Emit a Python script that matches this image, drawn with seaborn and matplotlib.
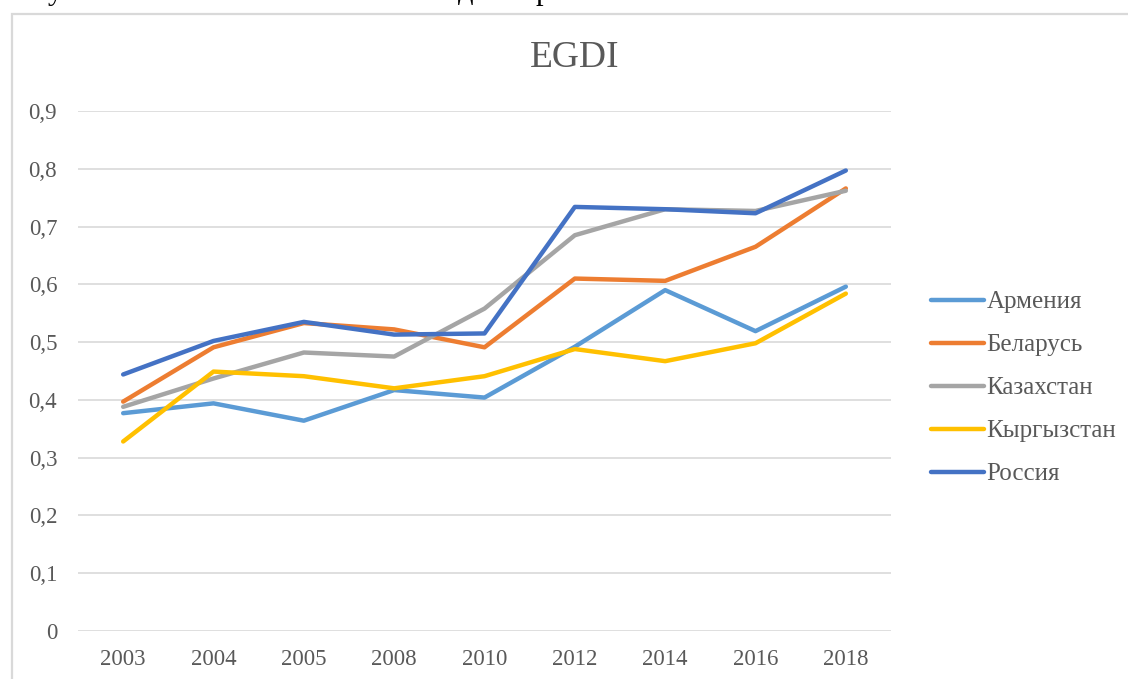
import pandas as pd
import matplotlib.pyplot as plt
import seaborn as sns
from matplotlib.ticker import FuncFormatter, MultipleLocator
from matplotlib.patches import Rectangle

years = ['2003', '2004', '2005', '2008', '2010', '2012', '2014', '2016', '2018']
armenia = [0.377, 0.394, 0.364, 0.417, 0.404, 0.492, 0.590, 0.519, 0.596]
belarus = [0.397, 0.491, 0.533, 0.522, 0.491, 0.610, 0.606, 0.665, 0.766]
kazakhstan = [0.388, 0.437, 0.482, 0.475, 0.558, 0.685, 0.730, 0.727, 0.762]
kyrgyzstan = [0.328, 0.449, 0.441, 0.420, 0.441, 0.488, 0.467, 0.498, 0.584]
russia = [0.444, 0.502, 0.535, 0.513, 0.515, 0.734, 0.730, 0.723, 0.797]

countries = ['Армения', 'Беларусь', 'Казахстан', 'Кыргызстан', 'Россия']
colors = ['#5B9BD5', '#ED7D31', '#A5A5A5', '#FFC000', '#4472C4']

rows = []
for name, vals in zip(countries, [armenia, belarus, kazakhstan, kyrgyzstan, russia]):
    for y, v in zip(years, vals):
        rows.append({'year': y, 'value': v, 'country': name})
df = pd.DataFrame(rows)

sns.set_style('white')
plt.rcParams['font.family'] = ['Liberation Serif', 'DejaVu Serif']
grey = '#595959'

fig = plt.figure(figsize=(11.28, 6.79), dpi=100)
ax = fig.add_axes([78 / 1128, 1 - 631 / 679, (891 - 78) / 1128, (631 - 111) / 679])

sns.lineplot(data=df, x='year', y='value', hue='country', palette=colors,
             linewidth=3.2, ax=ax, sort=False)

ax.set_xlim(-0.5, len(years) - 0.5)
ax.set_ylim(0, 0.9)
ax.yaxis.set_major_locator(MultipleLocator(0.1))
ax.yaxis.set_major_formatter(FuncFormatter(lambda v, p: '0' if abs(v) < 1e-9 else f'{v:.1f}'.replace('.', ',')))
ax.grid(axis='y', color='#d9d9d9', linewidth=1.2)
ax.grid(axis='x', visible=False)
for s in ax.spines.values():
    s.set_visible(False)
ax.tick_params(axis='both', length=0, labelsize=16.5, labelcolor=grey)
ax.tick_params(axis='y', pad=15)
ax.tick_params(axis='x', pad=13)
ax.set_xlabel('')
ax.set_ylabel('')

ax.legend(loc='center left', bbox_to_anchor=(931 / 1128, 1 - 388 / 679),
          bbox_transform=fig.transFigure, frameon=False, fontsize=18,
          handlelength=2.1, handletextpad=0.12, labelspacing=0.82,
          borderpad=0, borderaxespad=0, labelcolor=grey)

fig.text(575 / 1128, 1 - 58 / 679, 'EGDI', ha='center', va='center',
         fontsize=27, color=grey)

# chart frame (cut off at right and bottom)
fig.patches.append(Rectangle((12 / 1128, -0.1), 1.2, 1 - 14 / 679 + 0.1,
                             transform=fig.transFigure, fill=False,
                             edgecolor='#d9d9d9', linewidth=1.6))

# fragments of the text line above the chart (only descenders visible)
for x, ch in [(48, 'у'), (458, 'д'), (536, 'р')]:
    fig.text(x / 1128, 1 + 1 / 679, ch, ha='left', va='baseline',
             fontsize=22, color='black')

fig.savefig('out.png', dpi=100)
